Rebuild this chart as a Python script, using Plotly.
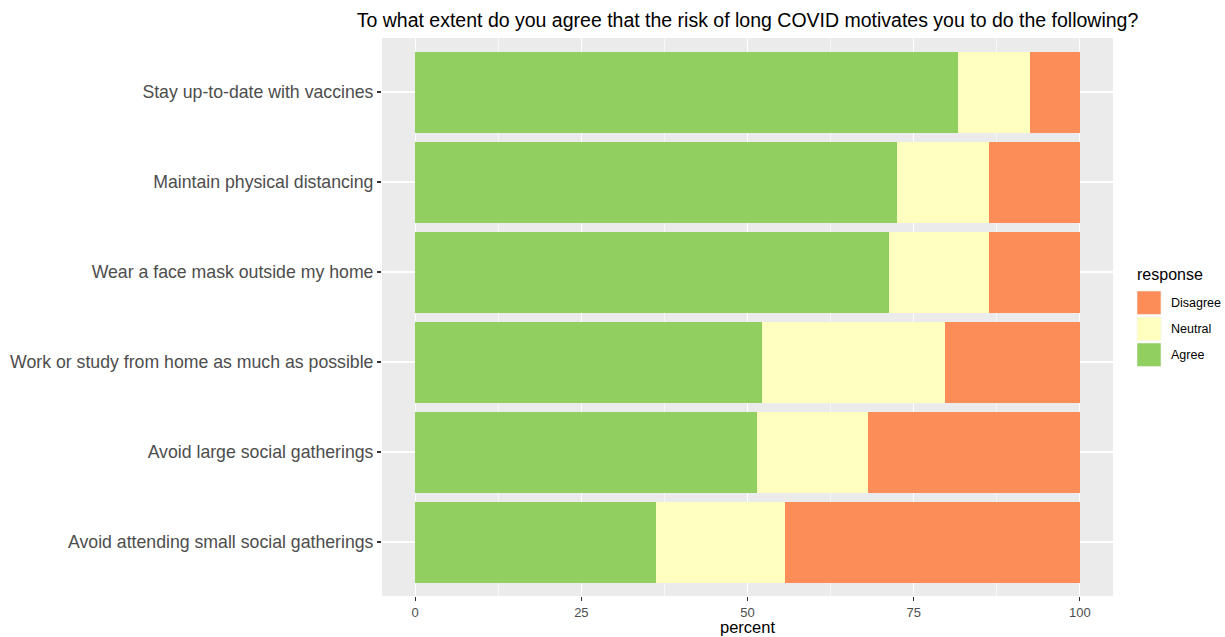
import plotly.graph_objects as go

# ---- data ----
items = [
    "Stay up-to-date with vaccines",
    "Maintain physical distancing",
    "Wear a face mask outside my home",
    "Work or study from home as much as possible",
    "Avoid large social gatherings",
    "Avoid attending small social gatherings",
]
agree = [81.6, 72.5, 71.3, 52.2, 51.5, 36.2]
neutral = [10.9, 13.8, 15.1, 27.5, 16.6, 19.4]
disagree = [7.5, 13.7, 13.6, 20.3, 31.9, 44.4]

responses = ["Agree", "Neutral", "Disagree"]
colors = {"Agree": "#91CF60", "Neutral": "#FFFFBF", "Disagree": "#FC8D59"}
series = {"Agree": agree, "Neutral": neutral, "Disagree": disagree}

x_ticks = [0, 25, 50, 75, 100]
x_minor = [12.5, 37.5, 62.5, 87.5]
x_title = "percent"

W, H = 1225, 637
# panel in page pixels: x 382..1113, y 38..596
L = 382
R = W - 1113
T = 38
B = H - 596
font = "Liberation Sans, Arial, sans-serif"

fig = go.Figure()
for resp in responses:
    fig.add_trace(go.Bar(
        y=items, x=series[resp], orientation="h", name=resp,
        marker=dict(color=colors[resp], line=dict(width=0)),
        width=0.9, showlegend=False,
    ))

# page pixel positions converted to paper coordinates
def px_x(px):
    return (px - L) / (W - L - R)

def px_y(py):
    return (H - B - py) / (H - T - B)

# manual ggplot-style legend
legend_order = ["Disagree", "Neutral", "Agree"]
key_top = 291
key_size = 23.5
key_step = 26
for i, resp in enumerate(legend_order):
    y0 = key_top + i * key_step
    fig.add_shape(type="rect", xref="paper", yref="paper",
                  x0=px_x(1137), x1=px_x(1161),
                  y0=px_y(y0 + key_size), y1=px_y(y0),
                  fillcolor=colors[resp], line=dict(width=0.6, color="#F2F2F2"))
    fig.add_annotation(xref="paper", yref="paper", x=px_x(1169), y=px_y(y0 + key_size / 2),
                       text=resp, showarrow=False, xanchor="left", yanchor="middle",
                       font=dict(family=font, size=12.5, color="#000000"))
fig.add_annotation(xref="paper", yref="paper", x=px_x(1135), y=px_y(274),
                   text="response", showarrow=False, xanchor="left", yanchor="middle",
                   font=dict(family=font, size=16, color="#000000"))

# x axis title
fig.add_annotation(xref="paper", yref="paper", x=0.5, y=px_y(627),
                   text=x_title, showarrow=False, xanchor="center", yanchor="middle",
                   font=dict(family=font, size=16.5, color="#000000"))

fig.update_layout(
    width=W, height=H,
    margin=dict(l=L, r=R, t=T, b=B, pad=0, autoexpand=False),
    barmode="stack",
    plot_bgcolor="#EBEBEB", paper_bgcolor="white",
    title=dict(text="To what extent do you agree that the risk of long COVID motivates you to do the following?",
               x=0.5, xref="paper", xanchor="center", y=1 - 20 / H, yref="container", yanchor="middle",
               font=dict(family=font, size=19.5, color="#000000")),
    font=dict(family=font),
    bargap=0.1,
    hovermode=False,
)
fig.update_xaxes(
    range=[-5, 105], tickvals=x_ticks, ticktext=[str(v) for v in x_ticks],
    showgrid=True, gridcolor="white", gridwidth=1.3, zeroline=False,
    ticks="outside", ticklen=4, tickwidth=1.1, tickcolor="#333333",
    tickfont=dict(family=font, size=13, color="#4D4D4D"),
    minor=dict(tickvals=x_minor, showgrid=True, gridcolor="white", gridwidth=0.6, ticks=""),
    showline=False, fixedrange=True, automargin=False,
)
fig.update_yaxes(
    categoryorder="array", categoryarray=items[::-1],
    range=[-0.6, len(items) - 0.4],
    showgrid=True, gridcolor="white", gridwidth=1.3, zeroline=False,
    ticks="outside", ticklen=4, tickwidth=1.1, tickcolor="#333333",
    tickfont=dict(family=font, size=17.7, color="#4D4D4D"),
    showline=False, fixedrange=True, automargin=False,
)

fig.write_html(
    "out.html",
    config={"displayModeBar": False, "staticPlot": True},
    post_script="document.body.style.margin='0';document.body.style.overflow='hidden';",
)
